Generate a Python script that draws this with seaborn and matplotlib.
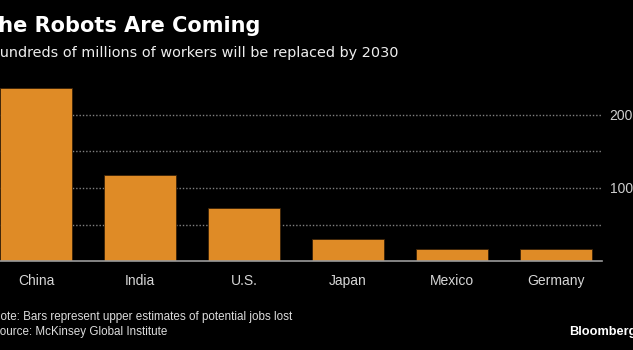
import matplotlib
matplotlib.use("Agg")
import matplotlib.pyplot as plt
import seaborn as sns
import pandas as pd

countries = ["China", "India", "U.S.", "Japan", "Mexico", "Germany"]
jobs_lost = [236, 117, 73, 30, 17, 17]
y_ticks = [100, 200]
grid_values = [50, 100, 150, 200]

title = "The Robots Are Coming"
subtitle = "Hundreds of millions of workers will be replaced by 2030"
note = "Note: Bars represent upper estimates of potential jobs lost"
source = "Source: McKinsey Global Institute"

SMALL = "Liberation Sans"

if __name__ == "__main__":
    sns.set_style("dark")
    plt.rcParams["font.family"] = ["DejaVu Sans"]

    W, H = 633, 350
    fig = plt.figure(figsize=(W / 100, H / 100), dpi=100, facecolor="black")
    # axes partly off the left edge, like the cropped original
    ax = fig.add_axes([-10 / W, 88.7 / H, 612 / W, 176 / H])
    ax.set_facecolor("black")

    df = pd.DataFrame({"country": countries, "jobs": jobs_lost})
    sns.barplot(data=df, x="country", y="jobs", color="#DF8B26", saturation=1,
                width=0.69, edgecolor="#3a2208", linewidth=0.6, ax=ax, zorder=3)

    ax.set_xlim(-0.442, 5.442)
    ax.set_ylim(0, 240)
    for g in grid_values:
        ax.axhline(g, color="#808080", linestyle=(0, (1, 1.4)), linewidth=1.0, zorder=1)
    ax.grid(False)

    ax.yaxis.tick_right()
    ax.set_yticks(y_ticks)
    ax.set_yticklabels([str(v) for v in y_ticks])
    ax.tick_params(axis="y", length=0, pad=5.5, labelsize=10, labelcolor="#cfcfcf")
    ax.tick_params(axis="x", length=4, width=1, color="#9a9a9a", pad=5,
                   labelsize=10, labelcolor="#d6d6d6", direction="out")
    for lab in ax.get_xticklabels() + ax.get_yticklabels():
        lab.set_family(SMALL)
    ax.set_xlabel("")
    ax.set_ylabel("")

    for s in ["top", "left", "right"]:
        ax.spines[s].set_visible(False)
    ax.spines["bottom"].set_color("#9a9a9a")
    ax.spines["bottom"].set_linewidth(1.2)
    ax.spines["bottom"].set_zorder(4)

    fig.text(-15.5 / W, 1 - 26 / H, title, color="white", fontsize=15,
             fontweight="bold", va="center", ha="left")
    fig.text(-11 / W, 1 - 53 / H, subtitle, color="#eeeeee", fontsize=10.4,
             va="center", ha="left")
    fig.text(-8 / W, 1 - 317 / H, note, color="#dddddd", fontsize=8.4,
             family=SMALL, va="center", ha="left")
    fig.text(-8 / W, 1 - 332 / H, source, color="#dddddd", fontsize=8.4,
             family=SMALL, va="center", ha="left")
    fig.text(1 + 3 / W, 1 - 332 / H, "Bloomberg", color="white", fontsize=9.2,
             fontweight="bold", family=SMALL, va="center", ha="right")

    fig.savefig("out.png", dpi=100, facecolor="black")
